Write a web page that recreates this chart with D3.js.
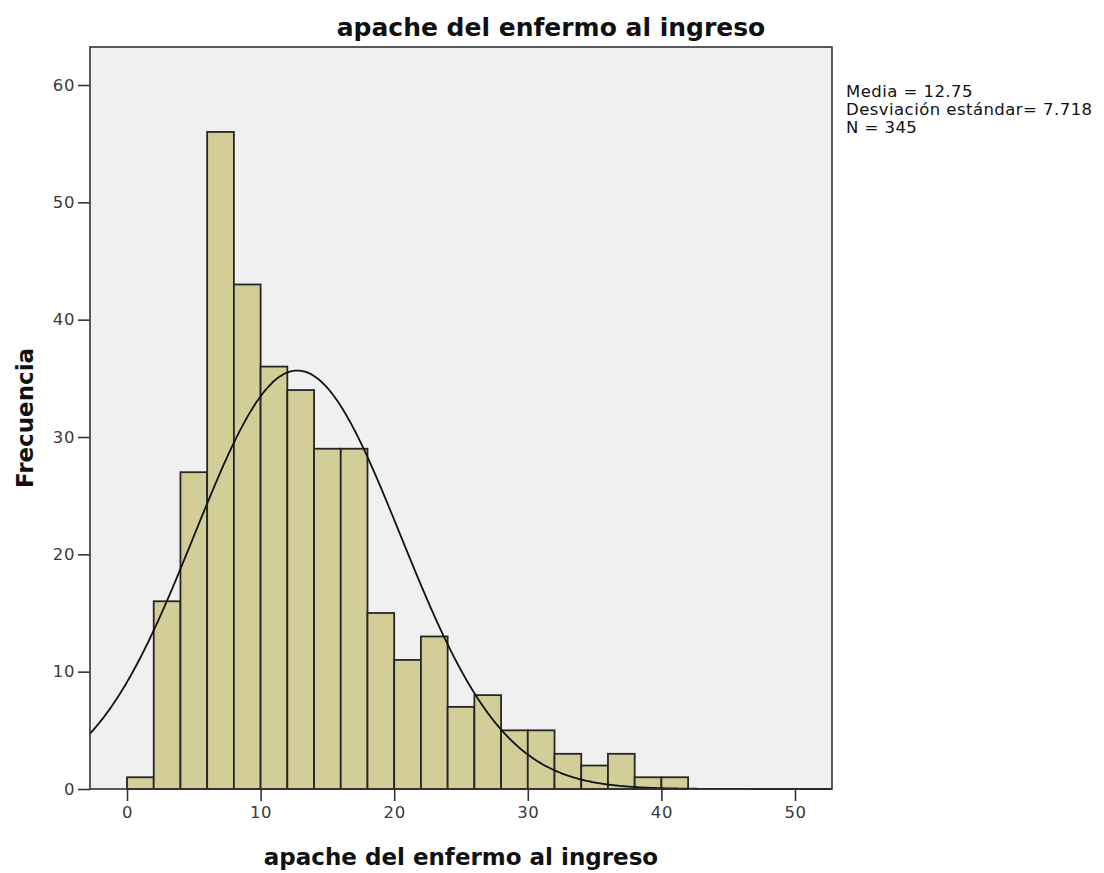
<!DOCTYPE html>
<html>
<head>
<meta charset="utf-8">
<script src="https://cdn.jsdelivr.net/npm/d3@7"></script>
<style>
  html, body { margin: 0; padding: 0; background: #ffffff; }
  svg { display: block; }
</style>
</head>
<body>
<svg id="chart" width="1104" height="873"></svg>
<script>
// Histogram of APACHE score at admission, bins of width 2
const binStarts = [0, 2, 4, 6, 8, 10, 12, 14, 16, 18, 20, 22, 24, 26, 28, 30, 32, 34, 36, 38, 40];
const binCounts = [1, 16, 27, 56, 43, 36, 34, 29, 29, 15, 11, 13, 7, 8, 5, 5, 3, 2, 3, 1, 1];
const binWidth = 2;
const xTicks = [0, 10, 20, 30, 40, 50];
const yTicks = [0, 10, 20, 30, 40, 50, 60];
const statLines = ["Media = 12.75", "Desviación estándar= 7.718", "N = 345"];
const mean = 12.75, sd = 7.718, n = 345;

const svg = d3.select("#chart");
const plot = { left: 90, right: 832, top: 47, bottom: 789 };

const x = d3.scaleLinear().domain([-2.77, 52.77]).range([plot.left, plot.right]);
const y = d3.scaleLinear().domain([0, 60]).range([plot.bottom, 85]);

// plot background
svg.append("rect")
  .attr("x", plot.left).attr("y", plot.top)
  .attr("width", plot.right - plot.left).attr("height", plot.bottom - plot.top)
  .attr("fill", "#f0f0f0");

// bars
svg.append("g").selectAll("rect")
  .data(binStarts.map((s, i) => ({ s, c: binCounts[i] })))
  .join("rect")
  .attr("x", d => x(d.s))
  .attr("width", d => x(d.s + binWidth) - x(d.s))
  .attr("y", d => y(d.c))
  .attr("height", d => y(0) - y(d.c))
  .attr("fill", "#d3ce98")
  .attr("stroke", "#262626")
  .attr("stroke-width", 1.8);

// fitted normal curve scaled to counts
const scale = n * binWidth / (sd * Math.sqrt(2 * Math.PI));
const curvePts = d3.range(-2.77, 52.77 + 0.001, 0.1).map(v => [v, scale * Math.exp(-0.5 * ((v - mean) / sd) ** 2)]);
svg.append("path")
  .datum(curvePts)
  .attr("fill", "none")
  .attr("stroke", "#111")
  .attr("stroke-width", 1.8)
  .attr("d", d3.line().x(d => x(d[0])).y(d => y(d[1])).curve(d3.curveBasis));

// frame
svg.append("rect")
  .attr("x", plot.left).attr("y", plot.top)
  .attr("width", plot.right - plot.left).attr("height", plot.bottom - plot.top)
  .attr("fill", "none").attr("stroke", "#333").attr("stroke-width", 1.6);

// axes
const xAxis = svg.append("g")
  .attr("transform", `translate(0,${plot.bottom})`)
  .call(d3.axisBottom(x).tickValues(xTicks).tickSize(12).tickPadding(5).tickFormat(d3.format("d")));
const yAxis = svg.append("g")
  .attr("transform", `translate(${plot.left},0)`)
  .call(d3.axisLeft(y).tickValues(yTicks).tickSize(12).tickPadding(3).tickFormat(d3.format("d")));
[xAxis, yAxis].forEach(a => {
  a.select(".domain").remove();
  a.selectAll(".tick line").attr("stroke", "#333").attr("stroke-width", 1.6);
  a.selectAll(".tick text")
    .attr("fill", "#3a3a3a")
    .style("font-family", "'DejaVu Sans', sans-serif")
    .style("font-size", "16.5px")
    .style("letter-spacing", "0.6px");
});

// title
svg.append("text")
  .attr("x", 551).attr("y", 36)
  .attr("text-anchor", "middle")
  .style("font-family", "'DejaVu Sans', sans-serif")
  .style("font-weight", "bold")
  .style("font-size", "25px")
  .attr("fill", "#111")
  .text("apache del enfermo al ingreso");

// x axis title
svg.append("text")
  .attr("x", (plot.left + plot.right) / 2).attr("y", 865)
  .attr("text-anchor", "middle")
  .style("font-family", "'DejaVu Sans', sans-serif")
  .style("font-weight", "bold")
  .style("font-size", "23px")
  .attr("fill", "#111")
  .text("apache del enfermo al ingreso");

// y axis title
svg.append("text")
  .attr("transform", `translate(33,${(plot.top + plot.bottom) / 2}) rotate(-90)`)
  .attr("text-anchor", "middle")
  .style("font-family", "'DejaVu Sans', sans-serif")
  .style("font-weight", "bold")
  .style("font-size", "23px")
  .attr("fill", "#111")
  .text("Frecuencia");

// summary statistics
svg.append("g").selectAll("text")
  .data(statLines)
  .join("text")
  .attr("x", 846)
  .attr("y", (d, i) => 97 + i * 18)
  .style("font-family", "'DejaVu Sans', sans-serif")
  .style("font-size", "16.5px")
  .style("letter-spacing", "0.45px")
  .attr("fill", "#111")
  .text(d => d);
</script>
</body>
</html>
